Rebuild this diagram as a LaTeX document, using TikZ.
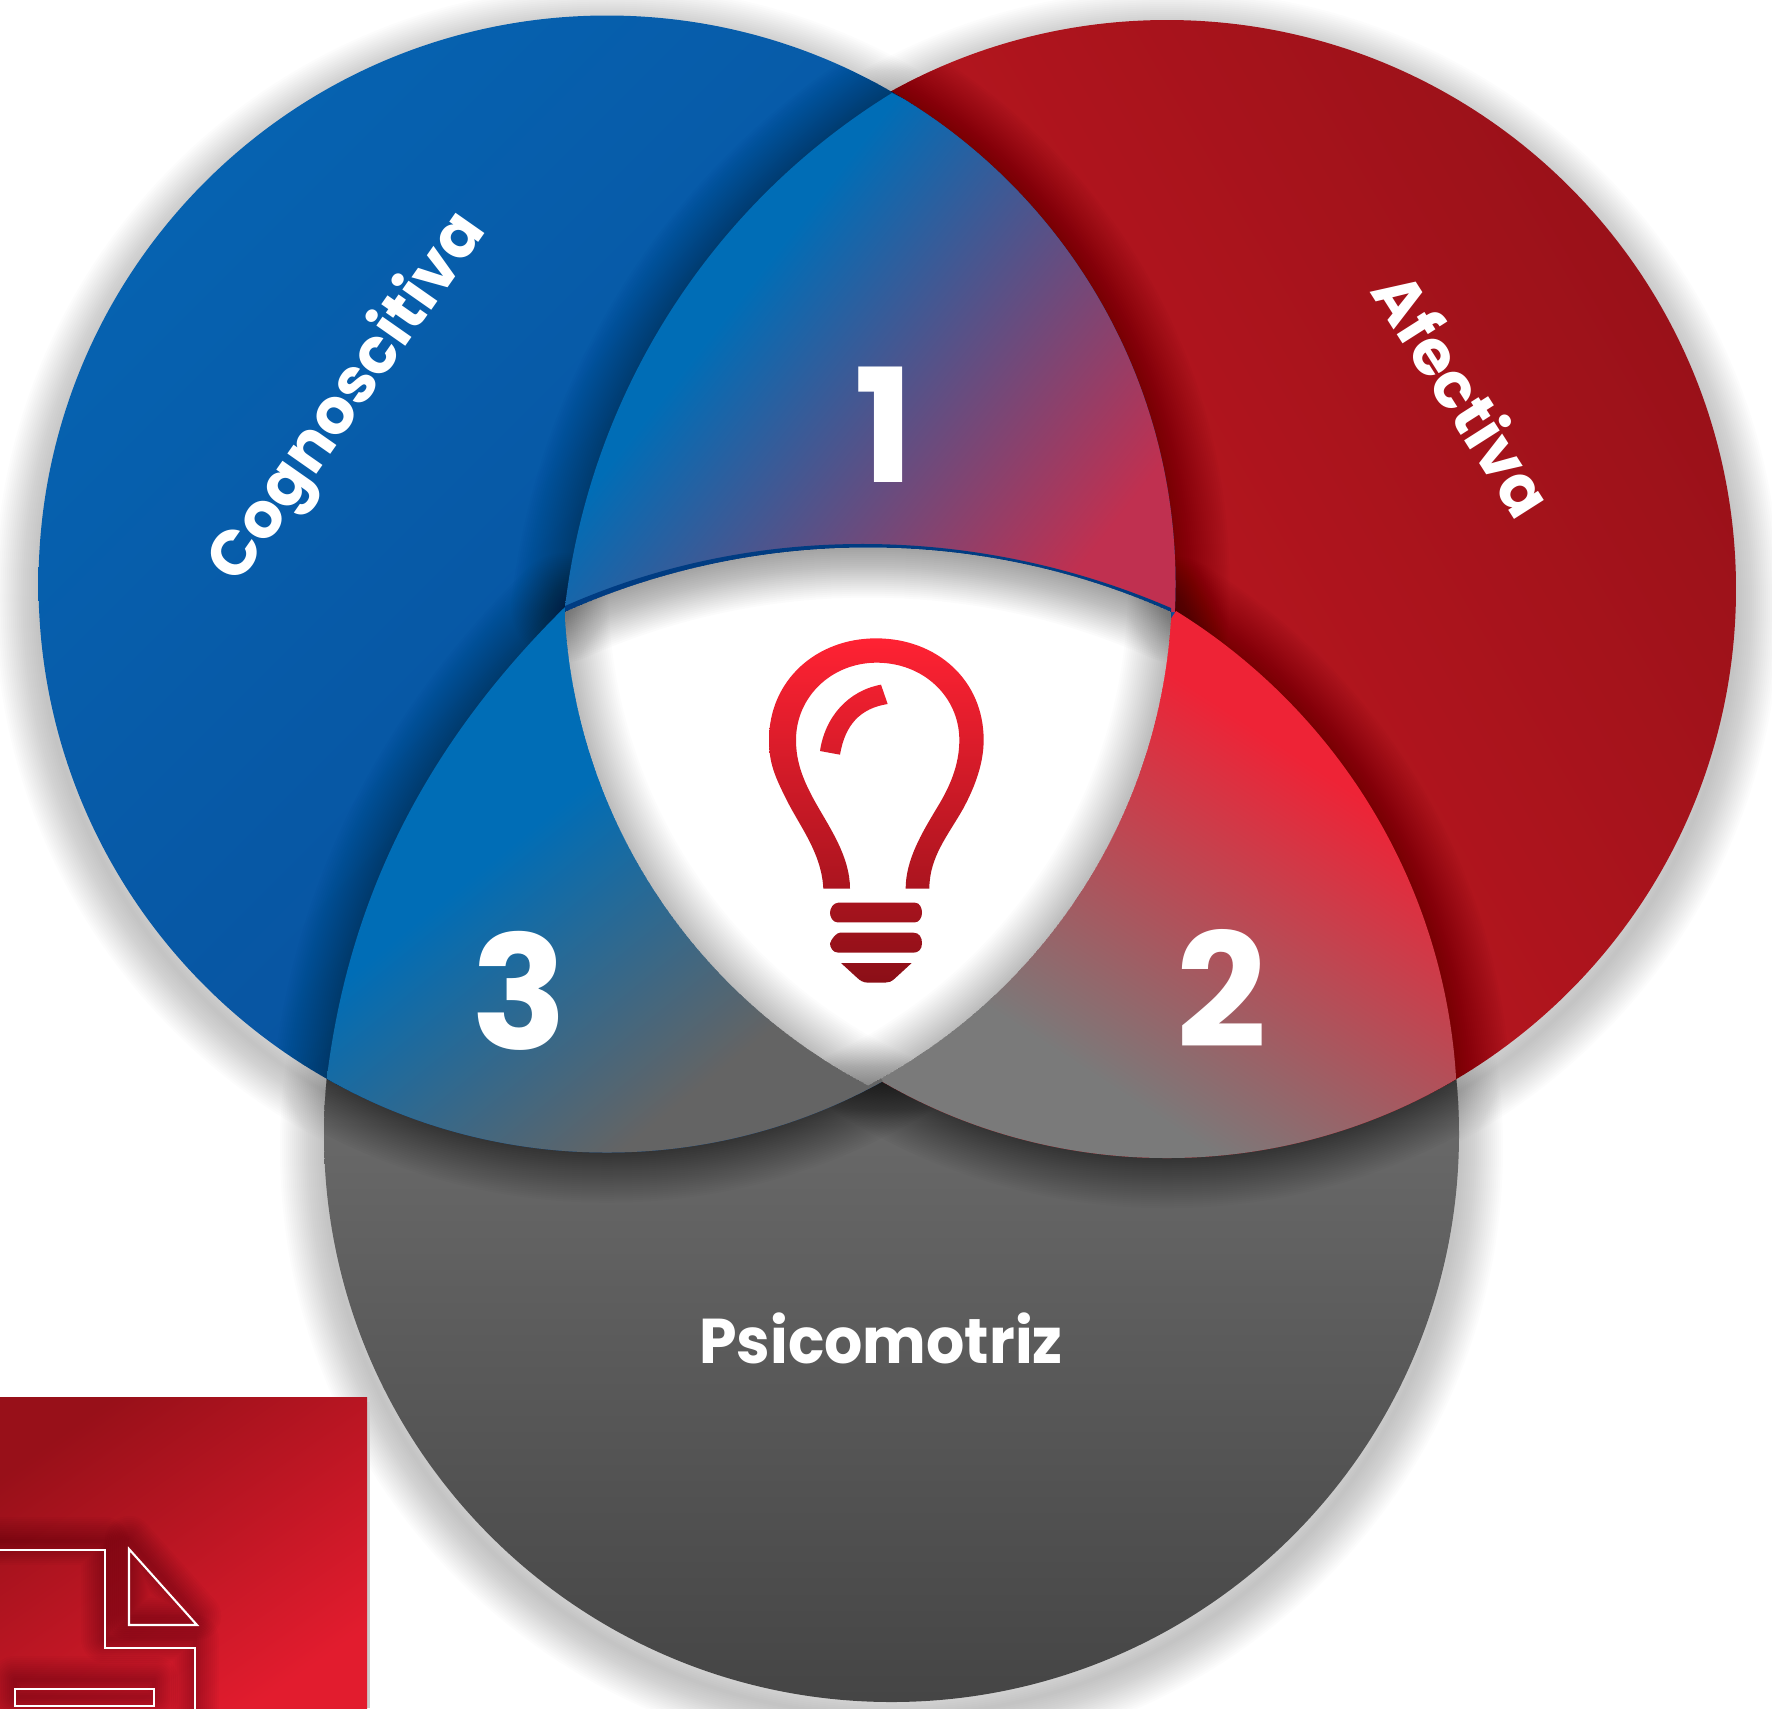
\documentclass[tikz,border=0pt]{standalone}
\usepackage{fontspec}
\setmainfont{Poppins}
\definecolor{lensblue}{HTML}{006DB6}
\definecolor{lensred}{HTML}{C03050}
\definecolor{lensfire}{HTML}{EE2336}
\definecolor{lensgray}{HTML}{7A7A7A}
\definecolor{lensdim}{HTML}{646464}
\pgfdeclareverticalshading{lensone}{100bp}{color(0bp)=(lensblue); color(38bp)=(lensblue); color(76bp)=(lensred); color(100bp)=(lensred)}
\pgfdeclareverticalshading{lenstwo}{100bp}{color(0bp)=(lensgray); color(32.7bp)=(lensgray); color(66.4bp)=(lensfire); color(100bp)=(lensfire)}
\pgfdeclareverticalshading{lensthree}{100bp}{color(0bp)=(lensblue); color(42bp)=(lensblue); color(70bp)=(lensdim); color(100bp)=(lensdim)}
\def\circblue{(607,584) circle (568.5)}
\def\circred{(1167,589) circle (569)}
\def\circgray{(891.5,1134.5) circle (567.5)}
\def\arcone{(892,93) .. controls (710,205) and (590,395) .. (565,607)}
\def\arctwo{(1176,611) .. controls (1339,712) and (1444,885) .. (1456,1077)}
\def\arcthree{(565,607) .. controls (433,737) and (350,889) .. (327,1077)}
\def\arcwhite{(565,612) .. controls (757,526) and (979,526) .. (1171,612)}
\def\bulbpath{(370,866) .. controls (365,760) and (300,680) .. (260,600) .. controls (225,530) and (207,490) .. (207,420) .. controls (207,240) and (350,115) .. (528,115) .. controls (710,115) and (851,240) .. (851,420) .. controls (851,490) and (825,560) .. (790,625) .. controls (745,705) and (688,770) .. (688,866) -- (617,866) .. controls (617,780) and (665,700) .. (710,625) .. controls (750,560) and (778,495) .. (778,420) .. controls (778,290) and (670,188) .. (530,188) .. controls (395,188) and (288,290) .. (288,420) .. controls (288,490) and (312,545) .. (345,605) .. controls (390,685) and (450,770) .. (450,866) -- cycle
 (543,254) -- (563,312) .. controls (480,325) and (435,375) .. (420,464) -- (360,453) .. controls (375,350) and (445,272) .. (543,254) -- cycle
 (415,908) -- (645,908) .. controls (660,908) and (666,925) .. (666,938) .. controls (666,952) and (658,967) .. (645,967) -- (412,967) .. controls (398,967) and (390,950) .. (390,938) .. controls (390,925) and (400,908) .. (415,908) -- cycle
 (420,998) -- (640,998) .. controls (658,998) and (666,1012) .. (666,1030) .. controls (666,1048) and (655,1058) .. (640,1058) -- (415,1058) .. controls (398,1058) and (390,1042) .. (390,1030) .. controls (395,1015) and (410,998) .. (420,998) -- cycle
 (423,1089) -- (635,1089) -- (585,1135) .. controls (575,1145) and (565,1148) .. (555,1148) -- (505,1148) .. controls (490,1148) and (480,1142) .. (470,1132) -- cycle}
% blurred edge: stacked strokes, width in px
\newcommand{\softstroke}[3]{\foreach \w in {4,8,...,#2}{\draw[black,opacity=#1,line cap=round,line join=round,line width=\w*0.2845pt] #3;}}
\begin{document}
\begin{tikzpicture}[x=0.01cm,y=-0.01cm,
    digit label/.style={text=white,inner sep=0,anchor=base,font=\fontsize{45}{50}\selectfont\bfseries},
    area label/.style={text=white,inner sep=0,anchor=base,font=\fontsize{18}{22}\selectfont\bfseries}]
  \useasboundingbox (0,0) rectangle (1772,1708);

  % outer shadow
  \begin{scope}[shift={(0,14)}]
    \softstroke{0.012}{90}{\circblue}
    \softstroke{0.012}{90}{\circred}
    \softstroke{0.012}{90}{\circgray}
  \end{scope}

  % the three circles
  \begin{scope}
    \clip \circgray;
    \shade[top color=black!57!white,bottom color=black!73!white] (324,1040) rectangle (1459,1702);
    \softstroke{0.02}{100}{\circblue}
    \softstroke{0.02}{100}{\circred}
  \end{scope}
  \begin{scope}
    \clip \circred;
    \shade[top color={rgb,255:red,154;green,17;blue,25},bottom color={rgb,255:red,208;green,26;blue,36},shading angle=-60] (598,20) rectangle (1736,1158);
    \softstroke{0.013}{110}{\circblue}
    \softstroke{0.013}{110}{\arctwo}
  \end{scope}
  \begin{scope}
    \clip \circblue;
    \shade[top color={rgb,255:red,6;green,98;blue,176},bottom color={rgb,255:red,9;green,76;blue,152},shading angle=45] (38,15) rectangle (1176,1153);
    \softstroke{0.011}{110}{\arcone}
    \softstroke{0.011}{110}{\arcthree}
  \end{scope}

  % overlaps
  \begin{scope}
    \clip \circblue;
    \clip \arcone -- (565,612) -- (1176,612) -- (1300,300) -- cycle;
    \shade[shading=lensone,shading angle=-128] (565,93) rectangle (1176,612);
  \end{scope}
  \begin{scope}
    \clip \circred;
    \clip \arctwo -- (1456,1300) -- (858,1300) -- (858,1085) -- cycle;
    \shade[shading=lenstwo,shading angle=-33] (858,611) rectangle (1456,1158);
  \end{scope}
  \begin{scope}
    \clip \circblue;
    \clip \arcthree -- (327,1300) -- (886,1300) -- (886,1086) -- cycle;
    \shade[shading=lensthree,shading angle=-141] (327,607) rectangle (886,1153);
  \end{scope}
  \fill[fill={rgb,255:red,0;green,60;blue,130}] (565,606) .. controls (757,521) and (979,525) .. (1171,608) -- (1171,620) -- (565,620) -- cycle;

  % centre
  \begin{scope}
    \clip (1129,584) circle (565);
    \clip (607,584) circle (565);
    \clip \arcwhite -- (1171,1200) -- (565,1200) -- cycle;
    \fill[white] (560,540) rectangle (1180,1090);
    \softstroke{0.012}{90}{(1129,584) circle (565)}
    \softstroke{0.012}{90}{(607,584) circle (565)}
    \softstroke{0.014}{100}{\arcwhite}
  \end{scope}

  % bulb
  \begin{scope}[shift={(700,600)},scale=1/3]
    \clip \bulbpath;
    \shade[top color={rgb,255:red,255;green,34;blue,51},bottom color={rgb,255:red,139;green,15;blue,23}] (200,115) rectangle (860,1150);
  \end{scope}

  % corner sheet
  \begin{scope}
    \fill[black!20] (370,1402) rectangle (367,1708);
    \clip (0,1397) rectangle (367,1708);
    \shade[top color={rgb,255:red,152;green,16;blue,25},bottom color={rgb,255:red,226;green,28;blue,46},shading angle=35] (0,1397) rectangle (367,1708);
    \begin{scope}[shift={(0,-9)}]
      \softstroke{0.018}{48}{(0,1550) -- (105,1550) -- (105,1648) -- (195,1648) -- (195,1720)}
      \softstroke{0.018}{48}{(129,1549) -- (197,1625) -- (129,1625) -- cycle}
      \softstroke{0.018}{48}{(15,1689) rectangle (154,1706)}
    \end{scope}
    \draw[white,line width=0.6pt] (0,1550) -- (105,1550) -- (105,1648) -- (195,1648) -- (195,1720);
    \draw[white,line width=0.6pt] (129,1549) -- (197,1625) -- (129,1625) -- cycle;
    \draw[white,line width=0.6pt] (15,1689) rectangle (154,1706);
  \end{scope}

  \node[digit label] (one) at (884,482) {1};
  \node[digit label] (two) at (1222,1047) {2};
  \node[digit label] (three) at (519,1049) {3};
  \node[area label] (cogno) at (363,408) [rotate=55] {Cognoscitiva};
  \node[area label] (afect) at (1443,407) [rotate=-57.5] {Afectiva};
  \node[area label,xscale=0.95] (psico) at (881,1363) {Psicomotriz};
\end{tikzpicture}
\end{document}
